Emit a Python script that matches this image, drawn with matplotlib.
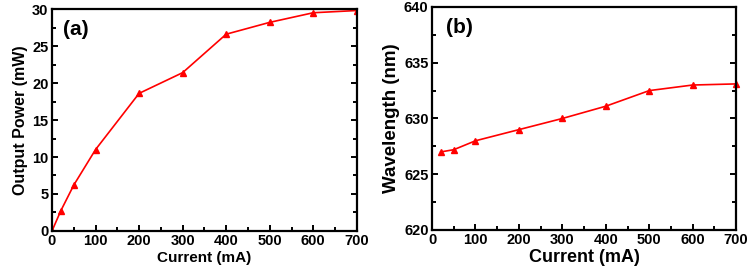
import matplotlib.pyplot as plt
from matplotlib.ticker import MultipleLocator

plt.rcParams['font.family'] = ['Liberation Sans', 'DejaVu Sans']
plt.rcParams['font.weight'] = 'bold'

current_a = [0, 20, 50, 100, 200, 300, 400, 500, 600, 700]
power = [0.0, 2.7, 6.2, 11.0, 18.6, 21.4, 26.6, 28.2, 29.5, 29.8]

current_b = [20, 50, 100, 200, 300, 400, 500, 600, 700]
wavelength = [627.0, 627.2, 628.0, 629.0, 630.0, 631.1, 632.5, 633.0, 633.1]


def style_axis(ax):
    for sp in ax.spines.values():
        sp.set_linewidth(1.6)
    ax.tick_params(which='both', direction='in', top=False, right=True,
                   width=1.4, labelsize=10.5, pad=2.5)
    ax.tick_params(which='major', length=4)
    ax.tick_params(which='minor', length=3)
    for lab in ax.get_xticklabels() + ax.get_yticklabels():
        lab.set_fontweight('bold')


fig = plt.figure(figsize=(7.49, 2.74), dpi=100)

ax1 = fig.add_axes([0.0694, 0.157, 0.407, 0.810])
ax1.plot(current_a, power, color='red', marker='^', markersize=4.5, linewidth=1.2)
ax1.set_xlim(0, 700)
ax1.set_ylim(0, 30)
ax1.xaxis.set_major_locator(MultipleLocator(100))
ax1.xaxis.set_minor_locator(MultipleLocator(50))
ax1.yaxis.set_major_locator(MultipleLocator(5))
ax1.yaxis.set_minor_locator(MultipleLocator(2.5))
ax1.set_xlabel('Current (mA)', fontsize=11, fontweight='bold', labelpad=2)
ax1.set_ylabel('Output Power (mW)', fontsize=11.5, fontweight='bold', labelpad=3)
ax1.text(0.035, 0.95, '(a)', transform=ax1.transAxes, fontsize=15,
         fontweight='bold', va='top')
style_axis(ax1)

ax2 = fig.add_axes([0.5768, 0.1606, 0.406, 0.814])
ax2.plot(current_b, wavelength, color='red', marker='^', markersize=4.5, linewidth=1.2,
         clip_on=False)
ax2.set_xlim(0, 700)
ax2.set_ylim(620, 640)
ax2.xaxis.set_major_locator(MultipleLocator(100))
ax2.xaxis.set_minor_locator(MultipleLocator(50))
ax2.yaxis.set_major_locator(MultipleLocator(5))
ax2.yaxis.set_minor_locator(MultipleLocator(2.5))
ax2.set_xlabel('Current (mA)', fontsize=13, fontweight='bold', labelpad=1)
ax2.set_ylabel('Wavelength (nm)', fontsize=13.5, fontweight='bold', labelpad=3)
ax2.text(0.045, 0.95, '(b)', transform=ax2.transAxes, fontsize=15,
         fontweight='bold', va='top')
style_axis(ax2)

fig.savefig('out.png', dpi=100)
